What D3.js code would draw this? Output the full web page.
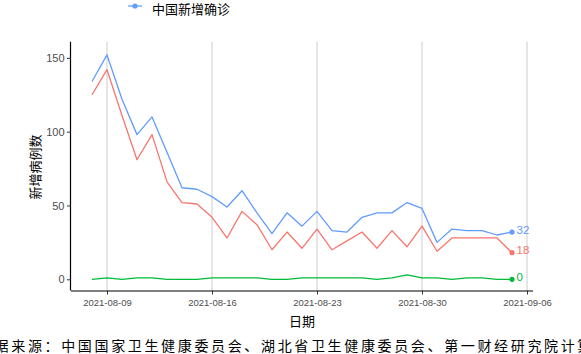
<!DOCTYPE html>
<html><head><meta charset="utf-8">
<script src="https://cdn.jsdelivr.net/npm/d3@7"></script>
<style>
html,body{margin:0;padding:0;background:#fff;}
svg{display:block;}
</style>
</head><body>
<svg id="c" width="581" height="354"></svg>
<script>
const dates = ["2021-08-08","2021-08-09","2021-08-10","2021-08-11","2021-08-12","2021-08-13","2021-08-14","2021-08-15","2021-08-16","2021-08-17","2021-08-18","2021-08-19","2021-08-20","2021-08-21","2021-08-22","2021-08-23","2021-08-24","2021-08-25","2021-08-26","2021-08-27","2021-08-28","2021-08-29","2021-08-30","2021-08-31","2021-09-01","2021-09-02","2021-09-03","2021-09-04","2021-09-05"];
const chinaNew = [134,152,122,98,110,86,62,61,56,49,60,45,31,45,36,46,33,32,42,45,45,52,48,25,34,33,33,30,32];
const seriesRed = [125,142,111,81,98,66,52,51,42,28,46,37,20,32,21,34,20,26,32,21,33,22,36,19,28,28,28,28,18];
const seriesGreen = [0,1,0,1,1,0,0,0,1,1,1,1,0,0,1,1,1,1,1,0,1,3,1,1,0,1,1,0,0];
const xTicks = ["2021-08-09","2021-08-16","2021-08-23","2021-08-30","2021-09-06"];
const yTicks = [0,50,100,150];
const legendLabel = "中国新增确诊";
const xTitle = "日期";
const yTitle = "新增病例数";
const caption = "数据来源：中国国家卫生健康委员会、湖北省卫生健康委员会、第一财经研究院计算";

const parse = d3.utcParse("%Y-%m-%d");
const D = dates.map(parse);
const day = 864e5;
const svg = d3.select("#c");
const latin = "'Liberation Sans', Arial, sans-serif";
const cjk = "'Noto Sans CJK SC', sans-serif";

const pL = 71, pR = 533, pT = 43.7, pB = 290.5;
const x = d3.scaleUtc()
  .domain([new Date(+D[0] - 1.4*day), new Date(+D[D.length-1] + 1.4*day)])
  .range([pL, pR]);
const ymax = d3.max(chinaNew), ymin = 0, pad = (ymax - ymin) * 0.05;
const y = d3.scaleLinear().domain([ymin - pad, ymax + pad]).range([pB, pT]);

// vertical grid
svg.append("g").selectAll("line").data(xTicks.map(parse)).join("line")
  .attr("x1", d => x(d)).attr("x2", d => x(d))
  .attr("y1", pT - 2).attr("y2", pB)
  .attr("stroke", "#cccccc").attr("stroke-width", 1);

const series = [
  {vals: chinaNew, color: "#619CFF"},
  {vals: seriesRed, color: "#F8766D"},
  {vals: seriesGreen, color: "#00BA38"}
];
const line = d3.line().x((d,i) => x(D[i])).y(d => y(d));
series.forEach(s => {
  svg.append("path").datum(s.vals).attr("d", line)
    .attr("fill", "none").attr("stroke", s.color).attr("stroke-width", 1.3)
    .attr("stroke-linejoin", "round");
  const last = s.vals.length - 1;
  svg.append("circle").attr("cx", x(D[last])).attr("cy", y(s.vals[last])).attr("r", 2.6)
    .attr("fill", s.color);
  svg.append("text").attr("x", x(D[last]) + 4.5).attr("y", y(s.vals[last]) - 2.5)
    .attr("dy", "0.35em").attr("font-family", latin).attr("font-size", 11.5)
    .attr("fill", s.color).text(s.vals[last]);
});

// axes
const xAxis = svg.append("g").attr("transform", `translate(0,${pB})`)
  .call(d3.axisBottom(x).tickValues(xTicks.map(parse)).tickSize(4).tickFormat(d3.utcFormat("%Y-%m-%d")));
xAxis.select(".domain").attr("stroke", "#000").attr("stroke-width", 1.2).attr("d", `M${pL},0.5H${pR}`);
xAxis.selectAll(".tick line").attr("stroke", "#333");
xAxis.selectAll(".tick text").attr("font-family", latin).attr("font-size", 9.5).attr("fill", "#4D4D4D").attr("y", 9).attr("dy", "0.71em");

const yAxis = svg.append("g").attr("transform", `translate(${pL},0)`)
  .call(d3.axisLeft(y).tickValues(yTicks).tickSize(4));
yAxis.select(".domain").attr("stroke", "#000").attr("stroke-width", 1.2).attr("d", `M-0.5,${pT - 2}V${pB}`);
yAxis.selectAll(".tick line").attr("stroke", "#333");
yAxis.selectAll(".tick text").attr("font-family", latin).attr("font-size", 11).attr("fill", "#4D4D4D").attr("x", -6.5);

// titles
svg.append("text").attr("x", (pL + pR) / 2).attr("y", 326).attr("text-anchor", "middle")
  .attr("font-family", cjk).attr("font-size", 13).attr("fill", "#000").text(xTitle);
svg.append("text").attr("transform", "translate(39.5,167) rotate(-90)").attr("text-anchor", "middle")
  .attr("font-family", cjk).attr("font-size", 13).attr("fill", "#000").text(yTitle);

// legend
const lg = svg.append("g");
lg.append("line").attr("x1", 128).attr("x2", 142).attr("y1", 6).attr("y2", 6)
  .attr("stroke", "#619CFF").attr("stroke-width", 1.3);
lg.append("circle").attr("cx", 135).attr("cy", 6).attr("r", 2.6).attr("fill", "#619CFF");
lg.append("text").attr("x", 152).attr("y", 13.5).attr("font-family", cjk).attr("font-size", 13)
  .attr("fill", "#000").text(legendLabel);

// caption
svg.append("text").attr("x", 286).attr("y", 351).attr("text-anchor", "middle")
  .attr("font-family", cjk).attr("font-size", 14).attr("letter-spacing", 2.65)
  .attr("fill", "#000").text(caption);
</script>
</body></html>
